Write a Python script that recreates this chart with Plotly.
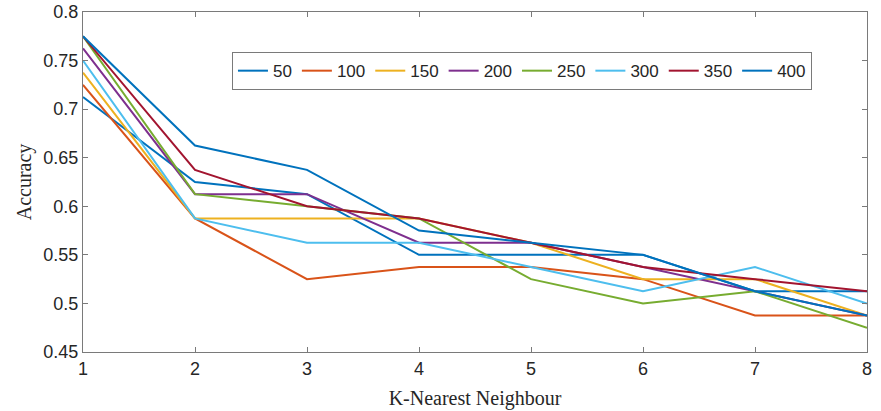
import plotly.graph_objects as go

k_values = [1, 2, 3, 4, 5, 6, 7, 8]
series_names = ["50", "100", "150", "200", "250", "300", "350", "400"]
acc_50 = [0.7125, 0.625, 0.6125, 0.55, 0.55, 0.55, 0.5125, 0.5125]
acc_100 = [0.725, 0.5875, 0.525, 0.5375, 0.5375, 0.525, 0.4875, 0.4875]
acc_150 = [0.7375, 0.5875, 0.5875, 0.5875, 0.5625, 0.525, 0.525, 0.4875]
acc_200 = [0.7625, 0.6125, 0.6125, 0.5625, 0.5625, 0.5375, 0.5125, 0.4875]
acc_250 = [0.775, 0.6125, 0.6, 0.5875, 0.525, 0.5, 0.5125, 0.475]
acc_300 = [0.75, 0.5875, 0.5625, 0.5625, 0.5375, 0.5125, 0.5375, 0.5]
acc_350 = [0.775, 0.6375, 0.6, 0.5875, 0.5625, 0.5375, 0.525, 0.5125]
acc_400 = [0.775, 0.6625, 0.6375, 0.575, 0.5625, 0.55, 0.5125, 0.4875]
y_ticks = [0.45, 0.5, 0.55, 0.6, 0.65, 0.7, 0.75, 0.8]
y_tick_labels = ["0.45", "0.5", "0.55", "0.6", "0.65", "0.7", "0.75", "0.8"]

all_series = [acc_50, acc_100, acc_150, acc_200, acc_250, acc_300, acc_350, acc_400]
colors = ["#0072BD", "#D95319", "#EDB120", "#7E2F8E", "#77AC30", "#4DBEEE", "#A2142F", "#0072BD"]

fig = go.Figure()
for name, vals, c in zip(series_names, all_series, colors):
    fig.add_trace(go.Scatter(x=k_values, y=vals, mode="lines", name=name,
                             line=dict(color=c, width=2)))

axis_common = dict(
    showgrid=False, zeroline=False, showline=True, linecolor="#7a7a7a", linewidth=1.3,
    mirror="allticks", ticks="inside", ticklen=5, tickcolor="#7a7a7a", tickwidth=1,
    tickfont=dict(family="Liberation Sans, Arial", size=18, color="#262626"),
    automargin=False,
)

fig.update_layout(
    width=881, height=411,
    margin=dict(l=83, r=14, t=12, b=59),
    paper_bgcolor="white", plot_bgcolor="white",
    showlegend=True,
    legend=dict(
        orientation="h", x=0.19, y=0.882, xanchor="left", yanchor="top",
        bgcolor="white", bordercolor="#7a7a7a", borderwidth=1,
        font=dict(family="Liberation Sans, Arial", size=17, color="#262626"),
        itemwidth=30, tracegroupgap=0,
    ),
    xaxis=dict(range=[1, 8], tickvals=k_values, ticktext=[str(k) for k in k_values],
               title=dict(text="K-Nearest Neighbour", standoff=13,
                          font=dict(family="Liberation Serif, DejaVu Serif", size=20, color="#262626")),
               **axis_common),
    yaxis=dict(range=[0.45, 0.8], tickvals=y_ticks, ticktext=y_tick_labels,
               title=dict(text="Accuracy", standoff=6,
                          font=dict(family="Liberation Serif, DejaVu Serif", size=20, color="#262626")),
               **axis_common),
)

fig.write_html("out.html")
